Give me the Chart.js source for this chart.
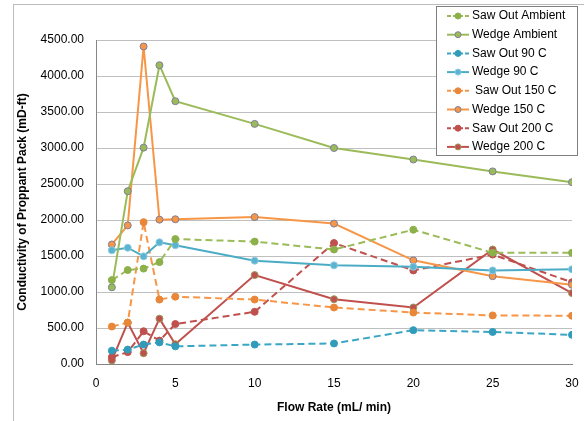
<!DOCTYPE html>
<html>
<head>
<meta charset="utf-8">
<script src="https://cdn.jsdelivr.net/npm/chart.js@4"></script>
<style>
  html, body { margin: 0; padding: 0; background: #fff; overflow: hidden; }
  #wrap { width: 584px; height: 421px; position: relative; }
</style>
</head>
<body>
<div id="wrap"><canvas id="conductivityChart"></canvas></div>
<script>
// Flow rates (mL/min)
const flowRates = [1, 2, 3, 4, 5, 10, 15, 20, 25, 30];

// Conductivity values (mD-ft)
const sawOutAmbient = [1165, 1305, 1325, 1415, 1735, 1700, 1590, 1865, 1545, 1545];
const wedgeAmbient = [1065, 2400, 3005, 4150, 3650, 3335, 3000, 2840, 2675, 2525];
const sawOut90 = [185, 200, 270, 300, 245, 270, 285, 470, 445, 405];
const wedge90 = [1580, 1615, 1495, 1690, 1650, 1435, 1370, 1350, 1300, 1315];
const sawOut150 = [520, 575, 1970, 895, 935, 895, 785, 715, 675, 670];
const wedge150 = [1660, 1925, 4410, 2005, 2010, 2040, 1950, 1440, 1220, 1100];
const sawOut200 = [95, 165, 455, 325, 555, 725, 1680, 1300, 1520, 1135];
const wedge200 = [50, 575, 150, 630, 275, 1235, 900, 785, 1590, 985];

const yTicks = [0, 500, 1000, 1500, 2000, 2500, 3000, 3500, 4000, 4500];

const pts = arr => arr.map((v, i) => ({ x: flowRates[i], y: v }));

function serie(label, data, color, dashed, pointColor, pointBorder) {
    return {
        label: label,
        data: pts(data),
        borderColor: color,
        backgroundColor: pointColor,
        pointBackgroundColor: pointColor,
        pointBorderColor: pointBorder,
        pointBorderWidth: 1,
        pointRadius: 3.5,
        borderWidth: 2,
        borderDash: dashed ? [7, 4] : [],
        tension: 0
    };
}

// Legend drawn inside the canvas, top right, overlapping the plot like the original
const boxLegend = {
    id: 'boxLegend',
    beforeDraw(chart) {
        const c = chart.ctx;
        c.save();
        c.strokeStyle = '#bcbcbc';
        c.lineWidth = 1;
        c.strokeRect(13.5, 4.5, 700, 600);
        c.restore();
    },
    afterDraw(chart) {
        const c = chart.ctx;
        const x0 = 436, y0 = 6, w = 141, h = 149;
        c.save();
        c.fillStyle = '#fff';
        c.fillRect(x0, y0, w, h);
        c.strokeStyle = '#7f7f7f';
        c.lineWidth = 1;
        c.strokeRect(x0 + 0.5, y0 + 0.5, w, h);
        c.font = '12px "Liberation Sans", Arial, sans-serif';
        c.textBaseline = 'middle';
        chart.data.datasets.forEach((ds, i) => {
            const y = 16 + i * 18.7;
            c.strokeStyle = ds.borderColor;
            c.lineWidth = 2;
            c.setLineDash(ds.borderDash.length ? [4, 2] : []);
            c.beginPath();
            c.moveTo(447, y);
            c.lineTo(469, y);
            c.stroke();
            c.setLineDash([]);
            c.beginPath();
            c.arc(458, y, 3, 0, Math.PI * 2);
            c.fillStyle = ds.pointBackgroundColor;
            c.fill();
            c.lineWidth = 1;
            c.strokeStyle = ds.pointBorderColor;
            c.stroke();
            c.fillStyle = '#000';
            c.fillText(ds.label, i === 4 ? 475 : 472, y);
        });
        c.restore();
    }
};

const ctx = document.getElementById('conductivityChart').getContext('2d');
new Chart(ctx, {
    type: 'line',
    data: {
        datasets: [
            serie('Saw Out Ambient', sawOutAmbient, '#9bbb59', true, '#8cb04a', '#8cb04a'),
            serie('Wedge Ambient', wedgeAmbient, '#9bbb59', false, '#9bbb59', '#7f7f9a'),
            serie('Saw Out 90 C', sawOut90, '#3aa6c4', true, '#319cba', '#319cba'),
            serie('Wedge 90 C', wedge90, '#4bacc6', false, '#5ab4cf', '#8fcbe0'),
            serie('Saw Out 150 C', sawOut150, '#f79646', true, '#e8873a', '#e8873a'),
            serie('Wedge 150 C', wedge150, '#f79646', false, '#f79646', '#7f7f9a'),
            serie('Saw Out 200 C', sawOut200, '#c0504d', true, '#c0504d', '#c0504d'),
            serie('Wedge 200 C', wedge200, '#c0504d', false, '#c0504d', '#9a9a5a')
        ]
    },
    options: {
        responsive: true,
        maintainAspectRatio: false,
        animation: false,
        layout: { padding: { left: 14, top: 40, right: 12, bottom: 6 } },
        scales: {
            x: {
                type: 'linear',
                min: 0,
                max: 30,
                grid: { display: false, drawTicks: false },
                border: { color: '#868686', width: 1 },
                ticks: {
                    stepSize: 5,
                    padding: 12,
                    color: '#000',
                    font: { family: '"Liberation Sans", Arial, sans-serif', size: 12 }
                },
                title: {
                    display: true,
                    text: 'Flow Rate (mL/ min)',
                    color: '#000',
                    padding: { top: 0, bottom: 0 },
                    font: { family: '"Liberation Sans", Arial, sans-serif', size: 12, weight: 'bold' }
                },
                afterFit: s => { s.height = 51; s.paddingRight = 8; s.paddingLeft = 0; }
            },
            y: {
                min: 0,
                max: 4500,
                grid: { color: '#bfbfbf', drawTicks: false },
                border: { color: '#868686', width: 1 },
                afterBuildTicks: s => { s.ticks = yTicks.map(v => ({ value: v })); },
                ticks: {
                    padding: 12,
                    color: '#000',
                    callback: v => v.toFixed(2),
                    font: { family: '"Liberation Sans", Arial, sans-serif', size: 12 }
                },
                title: {
                    display: true,
                    text: 'Conductivity of Proppant Pack (mD-ft)',
                    color: '#000',
                    padding: { top: 1, bottom: 0 },
                    font: { family: '"Liberation Sans", Arial, sans-serif', size: 12, weight: 'bold' }
                },
                afterFit: s => { s.width = 82; }
            }
        },
        plugins: {
            legend: { display: false },
            tooltip: { enabled: false }
        }
    },
    plugins: [boxLegend]
});
</script>
</body>
</html>
